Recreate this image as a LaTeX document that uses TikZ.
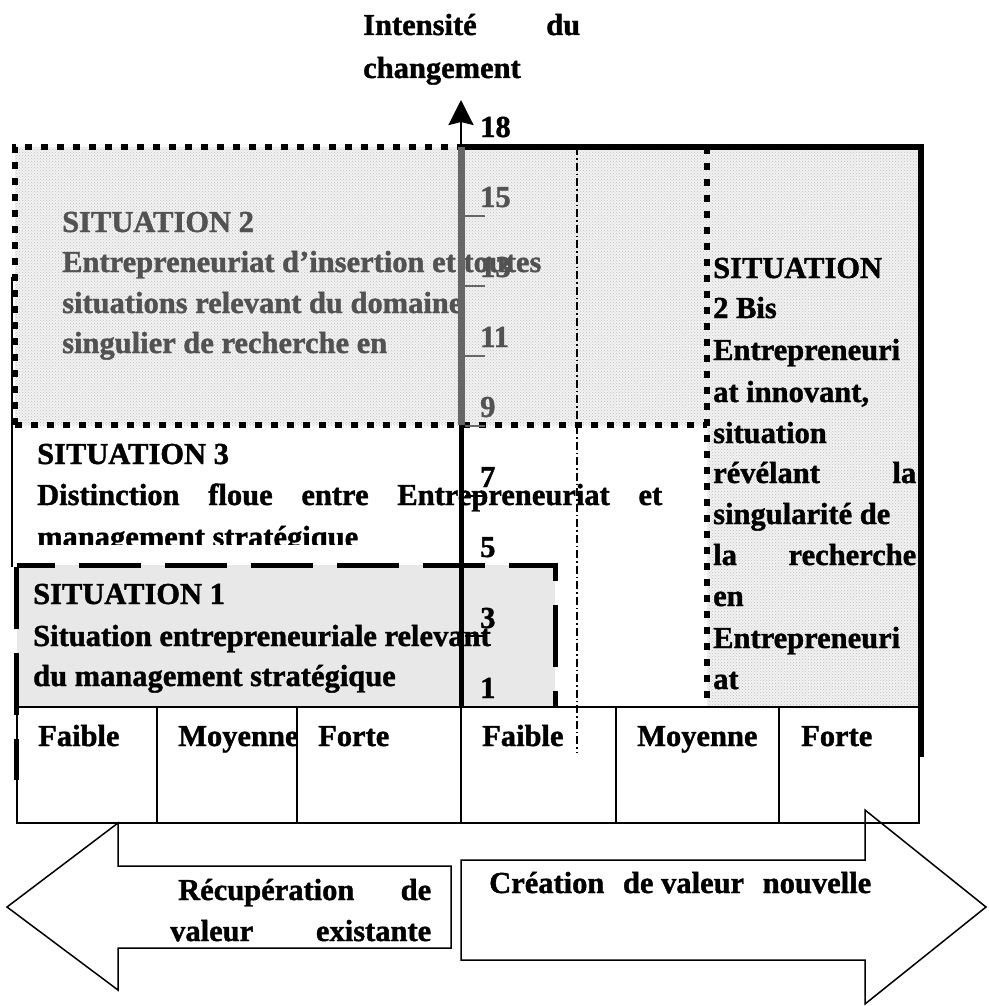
\documentclass[tikz,border=0pt]{standalone}
\usepackage{fontspec}
\setmainfont{Liberation Serif}[BoldFont={Liberation Serif Bold},BoldFeatures={FakeBold=1.3}]
\usetikzlibrary{arrows.meta,patterns}
\begin{document}
\begin{tikzpicture}[x=1pt,y=-1pt,
  txt/.style={anchor=base west,inner sep=0pt,font=\fontsize{30.5}{41}\selectfont\bfseries},
  gtxt/.style={txt,text=black!68},
  stip/.style={fill=black!5,postaction={pattern=crosshatch dots,pattern color=black!25}},
  sqdots/.style={line width=6pt,dash pattern=on 7pt off 9pt},
  sonedash/.style={line width=5pt,dash pattern=on 62pt off 24pt},
  thinline/.style={line width=1.5pt},
  tickline/.style={line width=1.5pt},
  dashdotline/.style={line width=1.3pt,dash pattern=on 8pt off 3pt on 1.5pt off 3pt}]
\useasboundingbox (0,0) rectangle (988,1006);

% ---- fills
\fill[stip] (15,147) rectangle (707,425);
\fill[stip] (707,147) rectangle (921,708);
\fill[black!9] (17,565) rectangle (555,707);

% ---- bottom table
\draw[thinline,fill=white] (17,707) rectangle (919,823);
\foreach \cx in {157,297,461,616,779} \draw[thinline] (\cx,707) -- (\cx,823);
\node[txt] (c1) at (38,746) {Faible};
\node[txt] (c2) at (178,746) {Moyenne};
\node[txt] (c3) at (318,746) {Forte};
\node[txt] (c4) at (482,746) {Faible};
\node[txt] (c5) at (637,746) {Moyenne};
\node[txt] (c6) at (801,746) {Forte};

% ---- big arrows
\draw[thinline] (451,866) -- (118,866) -- (118,823) -- (7,907) -- (118,990) -- (118,948) -- (451,948) -- cycle;
\draw[thinline] (461,860) -- (865,860) -- (865,810) -- (986,907) -- (865,1004) -- (865,960) -- (461,960) -- cycle;
\node[txt] (la1) at (178,900) {\makebox[253pt]{Récupération\hfill de}};
\node[txt] (la2) at (170,941) {\makebox[261pt]{valeur\hfill existante}};
\node[txt] (ra1) at (489,893) {\makebox[382pt]{Création\hfill de valeur\hfill nouvelle}};

% ---- title
\node[txt] (t1) at (363,35) {\makebox[217pt]{Intensité\hfill du}};
\node[txt] (t2) at (363,78) {changement};

% ---- situation 2
\node[gtxt] (s2a) at (62,232) {SITUATION 2};
\node[gtxt] (s2b) at (62,272) {Entrepreneuriat d’insertion et toutes};
\node[gtxt] (s2c) at (62,313) {situations relevant du domaine};
\node[gtxt] (s2d) at (62,353) {singulier de recherche en};

% ---- situation 2 bis
\node[txt] (b1) at (713,278) {SITUATION};
\node[txt] (b2) at (713,318) {2 Bis};
\node[txt] (b3) at (713,360) {Entrepreneuri};
\node[txt] (b4) at (713,402) {at innovant,};
\node[txt] (b5) at (713,443) {situation};
\node[txt] (b6) at (713,483) {\makebox[203pt]{révélant\hfill la}};
\node[txt] (b7) at (713,524) {singularité de};
\node[txt] (b8) at (713,565) {\makebox[203pt]{la\hfill recherche}};
\node[txt] (b9) at (713,606) {en};
\node[txt] (b10) at (713,648) {Entrepreneuri};
\node[txt] (b11) at (713,689) {at};

% ---- situation 3
\node[txt] (s3a) at (37,464) {SITUATION 3};
\node[txt] (s3b) at (37,505) {\makebox[625pt]{Distinction\hfill floue\hfill entre\hfill Entrepreneuriat\hfill et}};
\begin{scope}
\clip (0,515) rectangle (460,544);
\node[txt] (s3c) at (37,547) {management stratégique};
\end{scope}

% ---- situation 1
\node[txt] (s1a) at (33,604) {SITUATION 1};
\node[txt] (s1b) at (33,646) {Situation entrepreneuriale relevant};
\node[txt] (s1c) at (33,686) {du management stratégique};

% ---- borders
\draw[line width=2pt] (12,277) -- (12,567);
\draw[sqdots] (15,425) -- (15,147) -- (461,147);
\draw[sqdots] (15,425) -- (707,425);
\draw[sqdots] (707,147) -- (707,708);
\draw[line width=6pt] (461,147) -- (921,147) -- (921,757);
\draw[dashdotline] (577,147) -- (577,753);
\draw[sonedash,dash phase=24pt] (17,565) -- (555,565) -- (555,707);
\draw[sonedash] (16,567) -- (16,780);

% ---- axis
\coordinate (axtip) at (461,100);
\coordinate (axtop) at (461,147);
\coordinate (axmid) at (461,425);
\coordinate (axbot) at (461,707);
\draw[line width=7pt,black!60] (axtop) -- (axmid);
\draw[line width=5pt] (axmid) -- (axbot);
\draw[line width=2.5pt,-{Stealth[length=25pt,width=25pt,inset=3pt]}] (axtop) -- (axtip);
\foreach \ty in {216,286,356,426} \draw[tickline,black!60] (465,\ty) -- (485,\ty);
\foreach \ty in {496,566,636} \draw[tickline] (465,\ty) -- (485,\ty);

% ---- numbers
\node[txt] (n18) at (480,137) {18};
\node[gtxt] (n15) at (480,207) {15};
\node[gtxt] (n13) at (480,277) {13};
\node[gtxt] (n11) at (480,347) {11};
\node[gtxt] (n9) at (480,417) {9};
\node[txt] (n7) at (480,487) {7};
\node[txt] (n5) at (480,557) {5};
\node[txt] (n3) at (480,628) {3};
\node[txt] (n1) at (480,698) {1};
\end{tikzpicture}
\end{document}
